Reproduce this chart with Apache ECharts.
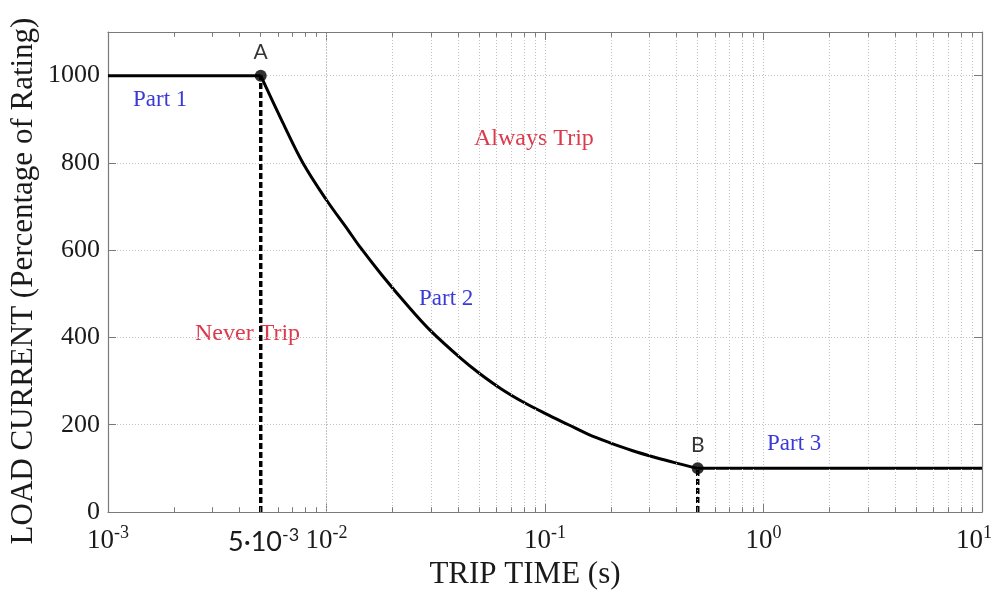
<!DOCTYPE html>
<html>
<head>
<meta charset="utf-8">
<script src="https://cdn.jsdelivr.net/npm/echarts@6/dist/echarts.min.js"></script>
<style>
  html, body { margin: 0; padding: 0; background: #fff; }
  #chart { width: 1005px; height: 595px; }
</style>
</head>
<body>
<div id="chart"></div>
<script>
// part 1: flat at 1000 up to point A
const partOneTime = [0.001, 0.005];
const partOneCurrent = [1000, 1000];
// part 2: the curve from A to B
const curveTime = [0.005, 0.0063, 0.0078, 0.01, 0.0126, 0.0142, 0.0178, 0.0236, 0.03, 0.0412, 0.05, 0.0631, 0.0794, 0.1, 0.128, 0.158, 0.2, 0.25, 0.32, 0.4, 0.5];
const curveCurrent = [1000, 893, 800, 715, 645, 608, 545, 472, 415, 352, 318, 282, 252, 226, 200, 178, 158, 141, 125, 112, 100];
// part 3: flat at 100 after point B
const partThreeTime = [0.5, 10];
const partThreeCurrent = [100, 100];
// dashed drops from A and B
const dropATime = [0.005, 0.005];
const dropACurrent = [0, 1000];
const dropBTime = [0.5, 0.5];
const dropBCurrent = [0, 100];
// marked points
const markerNames = ['A', 'B'];
const markerTime = [0.005, 0.5];
const markerCurrent = [1000, 100];
// axis ticks
const decades = [0.001, 0.01, 0.1, 1];
const minorSteps = [2, 3, 4, 5, 6, 7, 8, 9];
const yTicks = [0, 200, 400, 600, 800, 1000];

const serif = '"Liberation Serif", "Times New Roman", serif';
const sans = 'Lato, "Open Sans", sans-serif';
const gridColor = '#c2c2c2';
const boxColor = '#7a7a7a';
const gridDots = [1, 2];

const zip = (xs, ys) => xs.map((x, i) => [x, ys[i]]);

const minorTimes = [];
decades.forEach(d => minorSteps.forEach(s => minorTimes.push(+(d * s).toPrecision(3))));

const minorGrid = minorTimes.map(v => ({ xAxis: v }));
const minorTicks = [];
minorTimes.forEach(v => {
  minorTicks.push([{ coord: [v, 0] }, { coord: [v, 11] }]);
  minorTicks.push([{ coord: [v, 1100] }, { coord: [v, 1089] }]);
});

const expLabel = v => {
  const e = Math.round(Math.log10(v));
  // last label is nudged left so it stays inside the canvas
  return '{b|10}{' + (e === 1 ? 'e' : 's') + '|' + e + '}';
};

const chart = echarts.init(document.getElementById('chart'));

const option = {
  animation: false,
  backgroundColor: '#fff',
  grid: { left: 108, right: 23, top: 32, bottom: 83 },
  xAxis: [
    {
      type: 'log',
      logBase: 10,
      min: 0.001,
      max: 10,
      axisLine: { show: true, lineStyle: { color: boxColor, width: 1.2 } },
      axisTick: { show: true, inside: true, length: 8, lineStyle: { color: boxColor } },
      splitLine: { show: true, lineStyle: { color: gridColor, type: gridDots, width: 1 } },
      axisLabel: {
        margin: 12,
        formatter: expLabel,
        rich: {
          b: { fontFamily: serif, fontSize: 27, color: '#1a1a1a', lineHeight: 30 },
          s: { fontFamily: serif, fontSize: 18, color: '#1a1a1a', padding: [0, 0, 15, 0] },
          e: { fontFamily: serif, fontSize: 18, color: '#1a1a1a', padding: [0, 16, 15, 0] }
        }
      }
    },
    {
      type: 'log',
      logBase: 10,
      min: 0.001,
      max: 10,
      position: 'top',
      axisLine: { show: true, onZero: false, lineStyle: { color: boxColor, width: 1.2 } },
      axisTick: { show: true, inside: true, length: 8, lineStyle: { color: boxColor } },
      axisLabel: { show: false },
      splitLine: { show: false }
    }
  ],
  yAxis: [
    {
      type: 'value',
      min: 0,
      max: 1100,
      interval: 200,
      axisLine: { show: true, lineStyle: { color: boxColor, width: 1.2 } },
      axisTick: { show: true, inside: true, length: 8, lineStyle: { color: boxColor } },
      splitLine: { show: true, lineStyle: { color: gridColor, type: gridDots, width: 1 } },
      axisLabel: {
        margin: 8,
        showMaxLabel: false,
        fontFamily: serif,
        fontSize: 26,
        color: '#1a1a1a',
        formatter: v => (yTicks.indexOf(v) >= 0 ? String(v) : '')
      }
    },
    {
      type: 'value',
      min: 0,
      max: 1100,
      interval: 200,
      position: 'right',
      axisLine: { show: true, onZero: false, lineStyle: { color: boxColor, width: 1.2 } },
      axisTick: { show: true, inside: true, length: 8, lineStyle: { color: boxColor } },
      axisLabel: { show: false },
      splitLine: { show: false }
    }
  ],
  series: [
    {
      // minor log grid lines
      type: 'line',
      data: [[0.001, 0]],
      symbol: 'none',
      lineStyle: { opacity: 0 },
      silent: true,
      z: 1,
      markLine: {
        silent: true,
        symbol: ['none', 'none'],
        label: { show: false },
        animation: false,
        lineStyle: { color: gridColor, type: gridDots, width: 1 },
        data: minorGrid
      }
    },
    {
      // minor tick marks on bottom and top
      type: 'line',
      data: [[0.001, 0]],
      symbol: 'none',
      lineStyle: { opacity: 0 },
      silent: true,
      z: 1,
      markLine: {
        silent: true,
        symbol: ['none', 'none'],
        label: { show: false },
        animation: false,
        lineStyle: { color: boxColor, type: 'solid', width: 1 },
        data: minorTicks
      }
    },
    {
      type: 'line',
      data: zip(dropATime, dropACurrent),
      symbol: 'none',
      z: 3,
      lineStyle: { color: '#000', width: 3.5, type: [6, 3] }
    },
    {
      type: 'line',
      data: zip(dropBTime, dropBCurrent),
      symbol: 'none',
      z: 3,
      lineStyle: { color: '#000', width: 3.5, type: [6, 3] }
    },
    {
      type: 'line',
      data: zip(partOneTime, partOneCurrent),
      symbol: 'none',
      z: 4,
      lineStyle: { color: '#000', width: 3 }
    },
    {
      type: 'line',
      data: zip(curveTime, curveCurrent),
      symbol: 'none',
      smooth: 0.35,
      z: 4,
      lineStyle: { color: '#000', width: 3 }
    },
    {
      type: 'line',
      data: zip(partThreeTime, partThreeCurrent),
      symbol: 'none',
      z: 4,
      lineStyle: { color: '#000', width: 3 }
    },
    {
      type: 'scatter',
      data: markerNames.map((n, i) => ({ name: n, value: [markerTime[i], markerCurrent[i]] })),
      symbolSize: 12,
      z: 5,
      itemStyle: { color: '#000' },
      label: {
        show: true,
        position: 'top',
        distance: 7,
        formatter: p => p.name,
        fontFamily: sans,
        fontSize: 21,
        color: '#000'
      }
    }
  ],
  graphic: [
    {
      type: 'text',
      left: 228, top: 526,
      style: {
        text: '{b|5·10}{s|-3}',
        rich: {
          b: { fontFamily: sans, fontSize: 27, fill: '#1a1a1a', lineHeight: 30 },
          s: { fontFamily: sans, fontSize: 18, fill: '#1a1a1a', padding: [0, 0, 15, 0] }
        }
      }
    },
    {
      type: 'text',
      x: 24, y: 281, rotation: Math.PI / 2,
      style: {
        text: 'LOAD CURRENT (Percentage of Rating)',
        fontFamily: serif, fontSize: 31, fill: '#1a1a1a',
        align: 'center', verticalAlign: 'middle'
      }
    },
    {
      type: 'text',
      x: 525, y: 575,
      style: {
        text: 'TRIP TIME (s)',
        fontFamily: serif, fontSize: 31, fill: '#1a1a1a',
        align: 'center', verticalAlign: 'middle'
      }
    },
    { type: 'text', left: 133, top: 88, style: { text: 'Part 1', fontFamily: serif, fontSize: 23, fill: '#3a3ad6' } },
    { type: 'text', left: 474, top: 127, style: { text: 'Always Trip', fontFamily: serif, fontSize: 24, fill: '#dc3a4c' } },
    { type: 'text', left: 419, top: 287, style: { text: 'Part 2', fontFamily: serif, fontSize: 23, fill: '#3a3ad6' } },
    { type: 'text', left: 195, top: 322, style: { text: 'Never Trip', fontFamily: serif, fontSize: 24, fill: '#dc3a4c' } },
    { type: 'text', left: 767, top: 432, style: { text: 'Part 3', fontFamily: serif, fontSize: 23, fill: '#3a3ad6' } }
  ]
};

chart.setOption(option);
</script>
</body>
</html>
